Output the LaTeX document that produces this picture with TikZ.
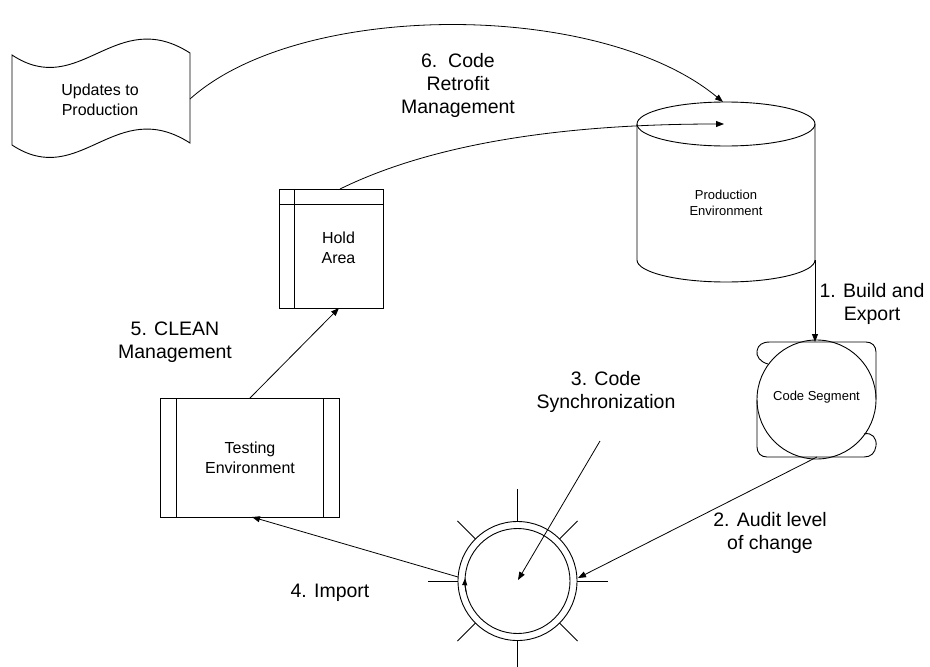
\documentclass[tikz,border=0pt]{standalone}
\usepackage{fontspec}
\setmainfont{Liberation Sans}
\usetikzlibrary{arrows.meta,calc}
\begin{document}
\begin{tikzpicture}[x=1pt,y=-1pt,
  shapeline/.style={draw=black, line width=0.9pt},
  conn/.style={draw=black, line width=0.8pt, -{Triangle[length=8pt,width=6pt]}},
  plain/.style={draw=black, line width=0.8pt},
  lbl/.style={font=\fontsize{19.5}{23}\selectfont, align=center, inner sep=0pt},
  ntext/.style={font=\fontsize{16}{20}\selectfont, align=center, inner sep=0pt},
  stext/.style={font=\fontsize{13}{16.5}\selectfont, align=center, inner sep=0pt}]
\useasboundingbox (0,0) rectangle (930,667);

% ---- Updates to Production (document shape)
\draw[shapeline] (12,55) .. controls (80,100) and (115,5) .. (190,53) -- (190,143)
   .. controls (115,95) and (80,190) .. (12,145) -- cycle;
\node[ntext] (doc) at (100,100) {Updates to\\Production};
\coordinate (docR) at (190,99);

% ---- Production Environment (cylinder)
\draw[shapeline] (726,124) ellipse [x radius=89, y radius=22];
\draw[shapeline] (637,124) -- (637,260) arc [start angle=180, end angle=0, x radius=89, y radius=22] -- (815,124);
\node[stext] (prod) at (726,203) {Production\\Environment};
\coordinate (cylTop) at (723,102);
\coordinate (cylMid) at (724,124);
\coordinate (cylR) at (815,260);

% ---- Code Segment
\coordinate (segC) at (816.5,399.5);
\draw[shapeline] (segC) circle [radius=59.5];
\draw[shapeline] (768,364) .. controls (760,362) and (756,356) .. (757,351)
   .. controls (758,345) and (762,342) .. (770,342) -- (866,342)
   .. controls (872,342) and (876,346) .. (876,352) -- (876,399.5);
\draw[shapeline] (757,399.5) -- (757,447) .. controls (757,453) and (761,457) .. (767,457)
   -- (864,457) .. controls (871,457) and (875,453) .. (876,446)
   .. controls (877,438) and (872,432) .. (864,434);
\node[stext] (seg) at (816.5,397) {Code Segment};
\coordinate (segTop) at (815,342);
\coordinate (segBot) at (817,457);

% ---- Synchronization ring
\coordinate (ring) at (517.5,581);
\draw[shapeline] (ring) circle [radius=59.5];
\draw[shapeline] (ring) circle [radius=52.5];
\foreach \a/\r in {0/90,45/85,90/90,135/85,180/90,225/85,270/92,315/85}
  \draw[plain] ($(ring)+(\a:59.5)$) -- ($(ring)+(\a:\r)$);
\draw[draw=black, line width=0.9pt, -{Triangle[length=7pt,width=5pt]}]
  ($(ring)+(168:52.5)$) arc [start angle=168, end angle=183, radius=52.5];
\coordinate (ringR) at (578,578);
\coordinate (ringL) at (458,577);
\coordinate (ringC) at (518,580);
\coordinate (syncS) at (600,441);

% ---- Hold Area
\draw[shapeline] (279,189) rectangle (383,308);
\draw[shapeline] (279,204) -- (383,204);
\draw[shapeline] (294,189) -- (294,308);
\node[ntext] (hold) at (338.5,248) {Hold\\Area};
\coordinate (holdTop) at (340,189);
\coordinate (holdBot) at (339,308);

% ---- Testing Environment
\draw[shapeline] (160,398) rectangle (339,517);
\draw[shapeline] (176,398) -- (176,517);
\draw[shapeline] (323,398) -- (323,517);
\node[ntext] (test) at (250,458) {Testing\\Environment};
\coordinate (testTop) at (250,398);
\coordinate (testBR) at (252,517);

% ---- Connectors
\draw[conn] (docR) .. controls (300,0) and (600,0) .. (cylTop);
\draw[conn] (holdTop) .. controls (450,135) and (600,124) .. (cylMid);
\draw[conn] (cylR) -- (segTop);
\draw[conn] (segBot) -- (ringR);
\draw[conn] (syncS) -- (ringC);
\draw[conn] (ringL) -- (testBR);
\draw[conn] (testTop) -- (holdBot);

% ---- Labels
\node[lbl] (l6) at (458,85) {6.\ \ Code\\Retrofit\\Management};
\node[lbl] (l1) at (872,304) {1. Build and\\Export};
\node[lbl] (l3) at (606,392) {3. Code\\Synchronization};
\node[lbl] (l2) at (770,533) {2. Audit level\\of change};
\node[lbl] (l4) at (330,593) {4. Import};
\node[lbl] (l5) at (175,342) {5. CLEAN\\Management};
\end{tikzpicture}
\end{document}
